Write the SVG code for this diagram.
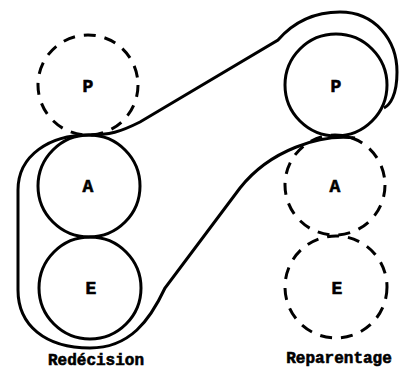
<svg xmlns="http://www.w3.org/2000/svg" width="402" height="371" viewBox="0 0 402 371">
<style>
.solid{fill:none;stroke:#000;stroke-width:3}
.dash{fill:none;stroke:#000;stroke-width:3;stroke-dasharray:12 9}
.lbl{font-family:"Liberation Mono","DejaVu Sans Mono",monospace;font-weight:bold;font-size:16px;fill:#000;stroke:#000;stroke-width:0.6;text-anchor:middle}
.node{font-size:18px}
</style>
<rect width="402" height="371" fill="#fff"/>
<g id="left-P"><circle class="dash" cx="88" cy="85" r="50"/><text class="lbl node" x="88" y="92">P</text></g>
<g id="left-A"><circle class="solid" cx="89" cy="186" r="51"/><text class="lbl node" x="88" y="192">A</text></g>
<g id="left-E"><circle class="solid" cx="90" cy="288" r="51"/><text class="lbl node" x="91" y="294">E</text></g>
<g id="right-P"><circle class="solid" cx="336" cy="85" r="51"/><text class="lbl node" x="336" y="92">P</text></g>
<g id="right-A"><circle class="dash" cx="335" cy="185" r="50"/><text class="lbl node" x="335" y="192">A</text></g>
<g id="right-E"><circle class="dash" cx="336" cy="287" r="51"/><text class="lbl node" x="337" y="294">E</text></g>
<g id="connectors">
<path class="solid" d="M355 138 C320 134 270 150 240 188 L165 288 C150 320 130 348 90 348 C45 348 18 325 18 290 L18 190 C18 155 50 135 88 135 C110 135 120 132 140 122 L278 40 C292 24 312 12 340 12 C375 12 397 40 397 72 C397 95 390 105 384 108"/>
</g>
<text class="lbl" x="96" y="365">Redécision</text>
<text class="lbl" x="339" y="363">Reparentage</text>
</svg>
